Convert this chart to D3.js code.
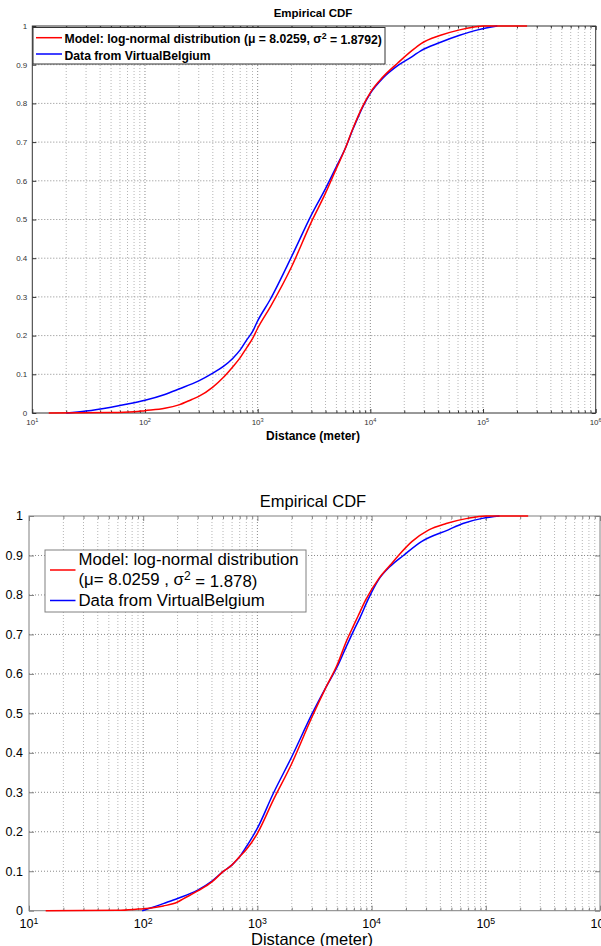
<!DOCTYPE html>
<html>
<head>
<meta charset="utf-8">
<script src="https://cdn.jsdelivr.net/npm/d3@7"></script>
<style>
  body { margin: 0; background: #fff; }
  svg { display: block; }
  text { font-family: "Liberation Sans", Arial, sans-serif; }
</style>
</head>
<body>
<svg id="chart" width="601" height="946"></svg>
<script>

// ---- data: [distance in m, cumulative probability] ----
var topModel = [
  [14,0],[50,0.001],[80,0.003],[100,0.006],[150,0.012],[200,0.021],[260,0.035],[300,0.043],
  [400,0.067],[500,0.093],[600,0.119],[700,0.143],[800,0.169],[900,0.192],[1000,0.219],
  [1300,0.275],[2000,0.378],[3000,0.494],[4000,0.568],[5000,0.632],[6000,0.684],[7000,0.735],
  [8700,0.797],[10000,0.828],[12900,0.868],[17600,0.905],[23500,0.937],[28000,0.954],
  [42000,0.976],[62000,0.99],[86000,0.998],[100000,1],[246000,1]
];
var topData = [
  [20,0],[30,0.005],[50,0.015],[70,0.023],[100,0.033],[150,0.048],[200,0.062],
  [300,0.083],[400,0.103],[500,0.121],[600,0.141],[700,0.163],[800,0.189],[900,0.21],
  [1000,0.238],[1285,0.292],[2000,0.404],[3000,0.512],[4000,0.58],[5000,0.637],[6000,0.684],
  [7000,0.733],[8700,0.795],[10000,0.826],[12900,0.865],[17600,0.898],[23500,0.921],[28000,0.936],
  [42000,0.958],[62000,0.976],[90000,0.99],[134000,1]
];
var bottomModel = [
  [14,0],[60,0.001],[90,0.004],[100,0.005],[150,0.012],[200,0.022],[224,0.03],[300,0.05],
  [400,0.073],[500,0.099],[600,0.116],[700,0.137],[800,0.155],[1000,0.196],[1377,0.28],
  [2000,0.373],[3000,0.49],[4000,0.567],[5000,0.623],[6000,0.682],[7000,0.724],[7600,0.746],
  [8900,0.788],[11600,0.842],[14500,0.875],[17200,0.9],[22500,0.935],[31700,0.965],[45000,0.981],
  [69000,0.994],[100000,1],[235000,1]
];
var bottomData = [
  [98,0],[120,0.008],[150,0.018],[200,0.031],[300,0.052],[400,0.075],[500,0.099],[600,0.116],
  [700,0.137],[800,0.162],[1000,0.209],[1377,0.297],[2000,0.39],[3000,0.498],[4000,0.567],
  [5000,0.618],[6000,0.669],[7000,0.711],[7900,0.742],[9300,0.788],[11600,0.84],[14500,0.872],
  [19000,0.9],[27300,0.935],[47000,0.965],[63000,0.981],[93000,0.994],[132000,1]
];

var yTicks = [0,0.1,0.2,0.3,0.4,0.5,0.6,0.7,0.8,0.9,1];
var yTickLabels = ["0","0.1","0.2","0.3","0.4","0.5","0.6","0.7","0.8","0.9","1"];
var xExponents = [1,2,3,4,5,6];
var minorMultipliers = [2,3,4,5,6,7,8,9];

var titleText = "Empirical CDF";
var xLabelText = "Distance (meter)";
var topLegend = [
  [{t:"Model: log-normal distribution (\u03bc = 8.0259, \u03c3"},{t:"2",sup:true},{t:" = 1.8792)"}],
  [{t:"Data from VirtualBelgium"}]
];
var bottomLegend = [
  [{t:"Model: log-normal distribution"}],
  [{t:"(\u03bc= 8.0259 , \u03c3"},{t:"2",sup:true},{t:" = 1.878)"}],
  [{t:"Data from VirtualBelgium"}]
];

var svg = d3.select("#chart");

// write text with optional superscripts
function richText(sel, parts, supSize) {
  parts.forEach(function(p, i) {
    var ts = sel.append("tspan").text(p.t);
    if (p.sup) {
      ts.attr("dy", "-0.45em").style("font-size", supSize);
    } else if (i > 0 && parts[i-1].sup) {
      ts.attr("dy", "0.45em");
    }
  });
}

function drawPanel(o, model, data, legendRows) {

  var x = d3.scaleLog().domain([10, 1e6]).range([o.left, o.right]);
  var y = d3.scaleLinear().domain([0, 1]).range([o.bottom, o.top]);

  var g = svg.append("g");

  var majors = xExponents.map(function(e){ return Math.pow(10, e); });
  var minors = [];
  xExponents.slice(0, -1).forEach(function(e) {
    minorMultipliers.forEach(function(m){ minors.push(m * Math.pow(10, e)); });
  });

  // grid
  g.append("g").selectAll("line").data(minors).enter().append("line")
    .attr("x1", function(d){ return x(d); }).attr("x2", function(d){ return x(d); })
    .attr("y1", o.top).attr("y2", o.bottom)
    .attr("stroke", o.minorGrid).attr("stroke-dasharray", "1,2");
  g.append("g").selectAll("line").data(majors.slice(1, -1)).enter().append("line")
    .attr("x1", function(d){ return x(d); }).attr("x2", function(d){ return x(d); })
    .attr("y1", o.top).attr("y2", o.bottom)
    .attr("stroke", o.majorGrid).attr("stroke-dasharray", "1,2");
  g.append("g").selectAll("line").data(yTicks.slice(1, -1)).enter().append("line")
    .attr("x1", o.left).attr("x2", o.right)
    .attr("y1", function(d){ return y(d); }).attr("y2", function(d){ return y(d); })
    .attr("stroke", o.majorGrid).attr("stroke-dasharray", "1,2");

  // inward ticks on all four sides
  [[d3.axisBottom, o.bottom], [d3.axisTop, o.top]].forEach(function(a) {
    g.append("g").attr("transform", "translate(0," + a[1] + ")")
      .call(a[0](x).tickValues(majors).tickSize(-o.tickLen).tickFormat(""))
      .call(function(s){ s.select(".domain").remove(); s.selectAll("line").attr("stroke", o.axisColor); });
    g.append("g").attr("transform", "translate(0," + a[1] + ")")
      .call(a[0](x).tickValues(minors).tickSize(-o.minorLen).tickFormat(""))
      .call(function(s){ s.select(".domain").remove(); s.selectAll("line").attr("stroke", o.axisColor); });
  });
  [[d3.axisLeft, o.left], [d3.axisRight, o.right]].forEach(function(a) {
    g.append("g").attr("transform", "translate(" + a[1] + ",0)")
      .call(a[0](y).tickValues(yTicks).tickSize(-o.tickLen).tickFormat(""))
      .call(function(s){ s.select(".domain").remove(); s.selectAll("line").attr("stroke", o.axisColor); });
  });

  // box
  g.append("rect")
    .attr("x", o.left).attr("y", o.top)
    .attr("width", o.right - o.left).attr("height", o.bottom - o.top)
    .attr("fill", "none").attr("stroke", o.axisColor).attr("stroke-width", 1);

  // curves
  var line = d3.line()
    .x(function(d){ return x(d[0]); })
    .y(function(d){ return y(d[1]); })
    .curve(d3.curveMonotoneX);

  g.append("path").datum(data).attr("d", line)
    .attr("fill", "none").attr("stroke", "#0000ff").attr("stroke-width", o.lineWidth);
  g.append("path").datum(model).attr("d", line)
    .attr("fill", "none").attr("stroke", "#ff0000").attr("stroke-width", o.lineWidth);

  // tick labels
  g.append("g").selectAll("text").data(yTicks).enter().append("text")
    .attr("x", o.left - o.yLabelGap)
    .attr("y", function(d){ return y(d); })
    .attr("dy", "0.35em")
    .attr("text-anchor", "end")
    .style("font-size", o.tickFont + "px")
    .attr("fill", o.tickColor)
    .text(function(d, i){ return yTickLabels[i]; });

  g.append("g").selectAll("text").data(xExponents).enter().append("text")
    .attr("x", function(e){ return x(Math.pow(10, e)); })
    .attr("y", o.xTickBaseline)
    .attr("text-anchor", "middle")
    .style("font-size", o.tickFont + "px")
    .attr("fill", o.tickColor)
    .each(function(e) {
      richText(d3.select(this), [{t:"10"},{t:String(e),sup:true}], (o.tickFont * 0.7) + "px");
    });

  // title and x label
  g.append("text")
    .attr("x", o.titleX).attr("y", o.titleY)
    .attr("text-anchor", "middle")
    .style("font-size", o.titleFont + "px").style("font-weight", o.weight)
    .text(titleText);
  g.append("text")
    .attr("x", o.xLabelX).attr("y", o.xLabelY)
    .attr("text-anchor", "middle")
    .style("font-size", o.xLabelFont + "px").style("font-weight", o.weight)
    .text(xLabelText);

  // legend
  var L = o.legend;
  g.append("rect")
    .attr("x", L.x).attr("y", L.y).attr("width", L.w).attr("height", L.h)
    .attr("fill", "#fff").attr("stroke", L.stroke).attr("stroke-width", 1);
  L.swatches.forEach(function(s) {
    g.append("line")
      .attr("x1", L.lineX1).attr("x2", L.lineX2).attr("y1", s.y).attr("y2", s.y)
      .attr("stroke", s.color).attr("stroke-width", o.lineWidth);
  });
  legendRows.forEach(function(row, i) {
    var t = g.append("text")
      .attr("x", L.textX).attr("y", L.baselines[i])
      .style("font-size", L.font + "px").style("font-weight", o.weight);
    richText(t, row, (L.font * 0.72) + "px");
  });
}

drawPanel({
  left: 32.3, right: 595.7, top: 26, bottom: 413,
  axisColor: "#333", majorGrid: "#8a8a8a", minorGrid: "#b5b5b5",
  tickLen: 4, minorLen: 2.5, lineWidth: 1.5,
  tickFont: 8, tickColor: "#333", yLabelGap: 5, xTickBaseline: 425,
  titleFont: 11.5, titleX: 313, titleY: 17, xLabelFont: 12, xLabelX: 313, xLabelY: 440,
  weight: "bold",
  legend: {
    x: 33, y: 27.5, w: 352, h: 36.5, stroke: "#333", font: 12.2,
    lineX1: 36, lineX2: 62, textX: 64.5,
    swatches: [{y: 37.7, color: "#ff0000"}, {y: 54, color: "#0000ff"}],
    baselines: [42.5, 59.5]
  }
}, topModel, topData, topLegend);

drawPanel({
  left: 29, right: 600, top: 516, bottom: 910.7,
  axisColor: "#808080", majorGrid: "#8a8a8a", minorGrid: "#b5b5b5",
  tickLen: 5, minorLen: 3, lineWidth: 1.5,
  tickFont: 12.5, tickColor: "#000", yLabelGap: 6, xTickBaseline: 927.5,
  titleFont: 16.5, titleX: 313, titleY: 507, xLabelFont: 16.5, xLabelX: 312, xLabelY: 944.5,
  weight: "normal",
  legend: {
    x: 45, y: 550, w: 261, h: 62, stroke: "#808080", font: 16.8,
    lineX1: 50, lineX2: 75.5, textX: 78.5,
    swatches: [{y: 570, color: "#ff0000"}, {y: 600.5, color: "#0000ff"}],
    baselines: [565, 585, 606]
  }
}, bottomModel, bottomData, bottomLegend);

</script>
</body>
</html>
